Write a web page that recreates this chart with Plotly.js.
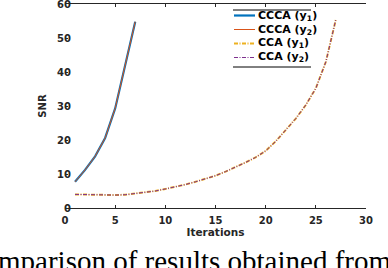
<!DOCTYPE html>
<html>
<head>
<meta charset="utf-8">
<script src="https://cdn.plot.ly/plotly-3.0.1.min.js"></script>
<style>html,body{margin:0;padding:0;background:#fff;}#chart{width:388px;height:268px;}</style>
</head>
<body>
<div id="chart"></div>
<script>
// ---- data ----
const itersCCCA = [1, 2, 3, 4, 5, 6, 7];
const snrCCCA_y1 = [7.7, 11.2, 15.2, 20.6, 29.3, 42.0, 54.8];
const snrCCCA_y2 = [7.7, 11.2, 15.2, 20.6, 29.3, 42.0, 54.8];
const itersCCA = [1,2,3,4,5,6,7,8,9,10,11,12,13,14,15,16,17,18,19,20,21,22,23,24,25,26,27];
const snrCCA_y1 = [4.0,3.9,3.85,3.8,3.8,3.9,4.2,4.6,5.0,5.6,6.2,6.9,7.7,8.6,9.5,10.7,12.0,13.4,14.9,16.8,19.6,22.8,26.3,30.3,35.2,43.0,55.5];
const snrCCA_y2 = [4.0,3.9,3.85,3.8,3.8,3.9,4.2,4.6,5.0,5.6,6.2,6.9,7.7,8.6,9.5,10.7,12.0,13.4,14.9,16.8,19.6,22.8,26.3,30.3,35.2,43.0,55.5];
const legendLabels = ['CCCA (y<sub>1</sub>)', 'CCCA (y<sub>2</sub>)', 'CCA (y<sub>1</sub>)', 'CCA (y<sub>2</sub>)'];
const xTicks = [0, 5, 10, 15, 20, 25, 30];
const yTicks = [0, 10, 20, 30, 40, 50, 60];
const caption = 'mparison of results obtained from';

// ---- styles ----
const styles = [
  {color: '#0072BD', width: 2.2, dash: 'solid'},
  {color: '#D95319', width: 1, dash: 'solid'},
  {color: '#EDB120', width: 2, dash: '4px,1.5px,1px,1.5px'},
  {color: '#7E2F8E', width: 1, dash: '4px,1.5px,1px,1.5px'}
];
const seriesX = [itersCCCA, itersCCCA, itersCCA, itersCCA];
const seriesY = [snrCCCA_y1, snrCCCA_y2, snrCCA_y1, snrCCA_y2];

const traces = seriesY.map((ys, i) => ({
  type: 'scatter', mode: 'lines', x: seriesX[i], y: ys,
  line: styles[i], showlegend: false, hoverinfo: 'skip'
}));

// pixel -> paper helpers (plot area: x 65..366, y 4..208)
const L = 65, R = 366, T = 4, B = 208;
const px = v => (v - L) / (R - L);
const py = v => (B - v) / (B - T);

const axColor = '#262626';
const tickFont = {family: 'DejaVu Sans', size: 10, color: axColor, weight: 'bold'};

const shapes = [];
const annotations = [];
// legend frame (top & bottom lines only)
shapes.push({type: 'line', xref: 'paper', yref: 'paper', x0: px(233), x1: px(311), y0: py(10), y1: py(10), line: {color: '#000', width: 1}});
shapes.push({type: 'line', xref: 'paper', yref: 'paper', x0: px(233), x1: px(311), y0: py(67), y1: py(67), line: {color: '#000', width: 1}});
const rowY = [15.5, 29.5, 43.5, 57.5];
legendLabels.forEach((lab, i) => {
  shapes.push({type: 'line', xref: 'paper', yref: 'paper', x0: px(234), x1: px(255), y0: py(rowY[i]), y1: py(rowY[i]), line: styles[i]});
  annotations.push({xref: 'paper', yref: 'paper', x: px(256), y: py(rowY[i]), xanchor: 'left', yanchor: 'middle',
    text: lab, showarrow: false, font: {family: 'DejaVu Sans', size: 11, color: '#000', weight: 'bold'}});
});
annotations.push({xref: 'paper', yref: 'paper', x: px(-4), y: py(243), xanchor: 'left', yanchor: 'top',
  text: caption, showarrow: false, font: {family: 'Liberation Serif', size: 29, color: '#000'}});

const layout = {
  width: 388, height: 268,
  margin: {l: 65, r: 22, t: 4, b: 60, pad: 0},
  paper_bgcolor: '#fff', plot_bgcolor: '#fff',
  showlegend: false,
  xaxis: {
    range: [0, 30], tickvals: xTicks, ticks: 'inside', ticklen: 3, tickcolor: axColor,
    showline: true, linecolor: axColor, linewidth: 1, mirror: 'ticks',
    showgrid: false, zeroline: false, tickfont: tickFont, ticklabelstandoff: 3,
    title: {text: 'Iterations', font: {family: 'DejaVu Sans', size: 10.5, color: axColor, weight: 'bold'}, standoff: 2}
  },
  yaxis: {
    range: [0, 60], tickvals: yTicks, ticks: 'inside', ticklen: 3, tickcolor: axColor,
    showline: false, showgrid: false, zeroline: false, tickfont: tickFont,
    ticklabelstandoff: -7, ticklabeloverflow: 'allow',
    title: {text: 'SNR', font: {family: 'DejaVu Sans', size: 10, color: axColor, weight: 'bold'}, standoff: 8}
  },
  yaxis2: {
    overlaying: 'y', side: 'right', range: [0, 60], tickvals: yTicks, ticks: 'inside', ticklen: 3,
    tickcolor: axColor, showline: true, linecolor: axColor, linewidth: 1,
    showticklabels: false, showgrid: false, zeroline: false
  },
  shapes: shapes,
  annotations: annotations
};

Plotly.newPlot('chart', traces, layout, {staticPlot: true, displayModeBar: false});
</script>
</body>
</html>
